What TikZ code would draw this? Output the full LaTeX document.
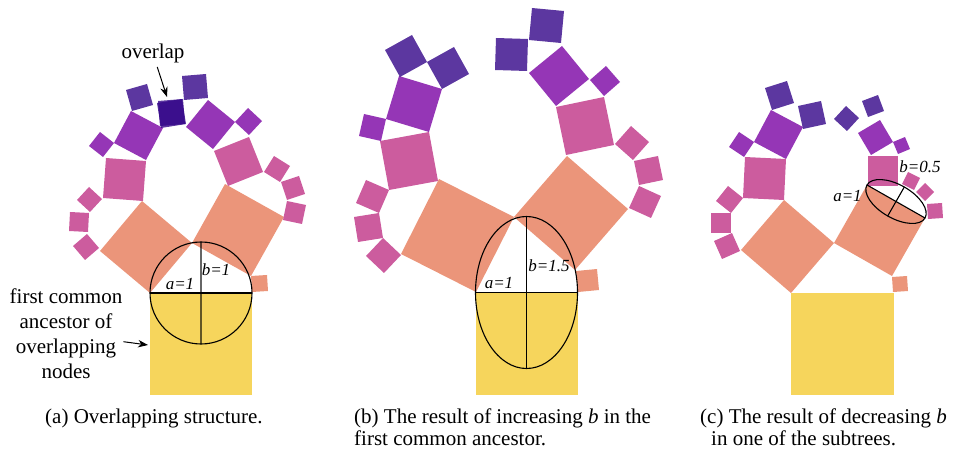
\documentclass[tikz,border=0pt]{standalone}
\usepackage{fontspec}
\setmainfont{Liberation Serif}
\usetikzlibrary{calc,arrows.meta}
\definecolor{rootyellow}{HTML}{F6D55C}
\definecolor{nodesalmon}{HTML}{EB957A}
\definecolor{nodepink}{HTML}{CC5C9E}
\definecolor{nodepurple}{HTML}{9536B6}
\definecolor{nodedark}{HTML}{330588}
\tikzset{
  darksq/.style={nodedark,fill opacity=0.8},
  mathlbl/.style={anchor=base,inner sep=0pt,font=\fontsize{17}{20}\selectfont\itshape},
  capt/.style={anchor=north west,inner sep=0pt,align=left,font=\fontsize{21}{22}\selectfont},
  axis/.style={line width=1.1pt},
  pointer/.style={->,line width=1pt}
}
% square standing on the edge #1 -- #2, on its left side
\newcommand{\leafsq}[3]{\fill[#3] (#1) -- (#2) -- ($(#2)!1!-90:(#1)$) -- ($(#1)!1!90:(#2)$) -- cycle;}
\begin{document}
\begin{tikzpicture}[x=1pt,y=-1pt,>={Stealth[length=10pt,width=7.5pt]}]
\useasboundingbox (0,0) rectangle (961,454);
% (a)
\fill[rootyellow] (150,293) rectangle (252,395);
\leafsq{150,293}{192,243}{nodesalmon}
\leafsq{192,243}{251,276}{nodesalmon}
\leafsq{251,276}{252,292}{nodesalmon}
\leafsq{99,248}{87,234}{nodepink}
\leafsq{88,232}{89,213}{nodepink}
\leafsq{90,212}{102,199}{nodepink}
\leafsq{103,198}{143,201}{nodepink}
\leafsq{103,157}{114,143}{nodepurple}
\leafsq{114,143}{146,160}{nodepurple}
\leafsq{132,111}{153,105}{darksq}
\leafsq{157,103}{161,128}{darksq}
\leafsq{228,186}{263,172}{nodepink}
\leafsq{264,172}{280,182}{nodepink}
\leafsq{281,182}{287,200}{nodepink}
\leafsq{287,201}{283,220}{nodepink}
\leafsq{213,149}{235,122}{nodepurple}
\leafsq{235,122}{249,135}{nodepurple}
\leafsq{185,124}{183,99}{darksq}
\leafsq{184,100}{208,98}{darksq}
\draw[axis] (201,293) circle [radius=51pt];
\draw[axis] (150,293) -- (252,293);
\draw[axis,draw opacity=0.6] (201,242) -- (201,344);
\node[mathlbl] (aa) at (180,290) {a=1};
\node[mathlbl] (ab) at (216,276) {b=1};
\node[anchor=base,font=\fontsize{21}{25}\selectfont] (overlap) at (153,59) {overlap};
\coordinate (overlaptip) at (167,97);
\draw[pointer] (overlap) -- (overlaptip);
\node[align=center,font=\fontsize{21}{25}\selectfont,inner sep=1pt] (ancestor) at (66,334) {first common\\ancestor of\\overlapping\\nodes};
\coordinate (ancestortip) at (148,345);
\draw[pointer] (ancestor) -- (ancestortip);
\node[capt] (capa) at (45,408.5) {(a) Overlapping structure.};
% (b)
\fill[rootyellow] (476,293) rectangle (578,395);
\leafsq{476,292}{514,217}{nodesalmon}
\leafsq{514,217}{575,270}{nodesalmon}
\leafsq{576,271}{578,292}{nodesalmon}
\leafsq{401,255}{383,238}{nodepink}
\leafsq{383,238}{379,213}{nodepink}
\leafsq{379,213}{389,190}{nodepink}
\leafsq{389,190}{438,181}{nodepink}
\leafsq{381,141}{386,119}{nodepurple}
\leafsq{386,119}{429,132}{nodepurple}
\leafsq{400,77}{427,62}{darksq}
\leafsq{427,62}{442,89}{darksq}
\leafsq{566,155}{614,145}{nodepink}
\leafsq{615,144}{633,160}{nodepink}
\leafsq{634,161}{639,185}{nodepink}
\leafsq{639,186}{629,208}{nodepink}
\leafsq{556,106}{589,79}{nodepurple}
\leafsq{590,80}{604,96}{nodepurple}
\leafsq{527,71}{528,39}{darksq}
\leafsq{529,40}{561,43}{darksq}
\draw[axis] (526.5,292.5) ellipse [x radius=51pt, y radius=76pt];
\draw[axis] (475.5,292.5) -- (577.5,292.5);
\draw[axis] (526.5,216.5) -- (526.5,368.5);
\node[mathlbl] (ba) at (499,289) {a=1};
\node[mathlbl] (bb) at (549,272) {b=1.5};
\node[capt] (capb) at (354,408.5) {(b) The result of increasing \textit{b} in the\\first common ancestor.};
% (c)
\fill[rootyellow] (791,293) rectangle (894,395);
\leafsq{791,293}{834,243}{nodesalmon}
\leafsq{834,243}{892,276}{nodesalmon}
\leafsq{892,277}{893,292}{nodesalmon}
\leafsq{740,251}{732,233}{nodepink}
\leafsq{731,233}{731,213}{nodepink}
\leafsq{731,213}{743,198}{nodepink}
\leafsq{743,198}{784,200}{nodepink}
\leafsq{744,157}{754,142}{nodepurple}
\leafsq{754,142}{786,159}{nodepurple}
\leafsq{772,110}{794,103}{darksq}
\leafsq{798,106}{803,129}{darksq}
\leafsq{868,186}{898,186}{nodepink}
\leafsq{902,184}{914,190}{nodepink}
\leafsq{916,192}{925,201}{nodepink}
\leafsq{927,204}{928,219}{nodepink}
\leafsq{871,155}{893,142}{nodepurple}
\leafsq{893,142}{898,154}{nodepurple}
\leafsq{847,131}{859,118}{darksq}
\leafsq{868,117}{884,111}{darksq}
\draw[axis,rotate around={-29.6:(896,201.5)}] (896,201.5) ellipse [x radius=33.4pt, y radius=16.7pt];
\draw[axis] (867,185) -- (925,218);
\draw[axis] (904.3,187) -- (887.7,216);
\node[mathlbl] (ca) at (847.5,201.5) {a=1};
\node[mathlbl] (cb) at (920,173) {b=0.5};
\node[capt] (capc) at (700,408.5) {(c) The result of decreasing \textit{b}\\\hspace*{11pt}in one of the subtrees.};
\end{tikzpicture}
\end{document}
